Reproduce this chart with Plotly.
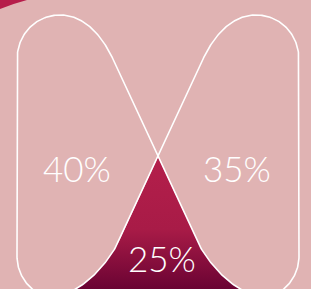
import numpy as np
import plotly.graph_objects as go

# ---- data ----
segments = ["Left", "Right", "Overlap"]
shares = [40, 35, 25]
labels = [f"{v}%" for v in shares]

W, H = 311, 289
BG = "#e0b3b3"
AXIS = 316  # mirror axis *2


def bez(p0, p1, p2, p3, n=60):
    t = np.linspace(0, 1, n)[:, None]
    p0, p1, p2, p3 = map(np.array, (p0, p1, p2, p3))
    return ((1 - t) ** 3) * p0 + 3 * t * (1 - t) ** 2 * p1 + 3 * t ** 2 * (1 - t) * p2 + t ** 3 * p3


def seg(a, b):
    return np.array([a, b], dtype=float)


# geometry of the left outline (right boundary = sigmoid)
top_left_corner = bez((17, 60), (17, 34), (36, 15), (60, 15))
top_round = bez((60, 15), (84, 15), (102, 35), (113.4, 60))
mid_line = seg((113.4, 60), (195, 237))
bottom_round = bez((195, 237), (206, 261), (235, 299), (275, 299))
bottom_edge = seg((275, 299), (60, 299))
bottom_left_corner = bez((60, 299), (36, 299), (17, 280), (17, 256))
left_edge = seg((17, 256), (17, 60))

left_path = np.vstack([left_edge, top_left_corner, top_round, mid_line,
                       bottom_round, bottom_edge, bottom_left_corner])
right_path = left_path.copy()
right_path[:, 0] = AXIS - right_path[:, 0]

# overlap region (below crossing)
cross = (158, 157)
lower_right = np.vstack([seg(cross, (195, 237)), bottom_round])
lower_left = lower_right.copy()
lower_left[:, 0] = AXIS - lower_left[:, 0]
overlap = np.vstack([lower_right, lower_left[::-1]])

fig = go.Figure()

fig.add_trace(go.Scatter(
    x=overlap[:, 0], y=overlap[:, 1], mode="lines", fill="toself",
    line=dict(width=0, color="rgba(0,0,0,0)"),
    fillgradient=dict(type="vertical", start=157, stop=289,
                      colorscale=[[0, "#b41f4b"], [0.55, "#a81b47"], [1, "#6a0333"]]),
    hoverinfo="skip", showlegend=False))

for p in (left_path, right_path):
    fig.add_trace(go.Scatter(
        x=p[:, 0], y=p[:, 1], mode="lines",
        line=dict(color="white", width=1.6),
        hoverinfo="skip", showlegend=False))

label_pos = [(77, 168), (237, 168), (162, 258)]
for (lx, ly), txt in zip(label_pos, labels):
    fig.add_annotation(x=lx, y=ly, text=txt, showarrow=False,
                       xref="x", yref="y", xanchor="center", yanchor="middle",
                       font=dict(family="Lato", size=35, weight=300, color="white"))

fig.update_layout(
    width=W, height=H,
    margin=dict(l=0, r=0, t=0, b=0),
    paper_bgcolor=BG, plot_bgcolor=BG,
    xaxis=dict(range=[0, W], visible=False, fixedrange=True),
    yaxis=dict(range=[H, 0], visible=False, fixedrange=True),
    shapes=[dict(type="path", xref="x", yref="y",
                 path="M 0,0 L 27,0 Q 12,4 0,9 Z",
                 fillcolor="#b61d4a", line=dict(width=0), layer="above")],
)

fig.write_html("out.html", config={"displayModeBar": False},
               post_script="document.body.style.margin='0';document.body.style.overflow='hidden';")
